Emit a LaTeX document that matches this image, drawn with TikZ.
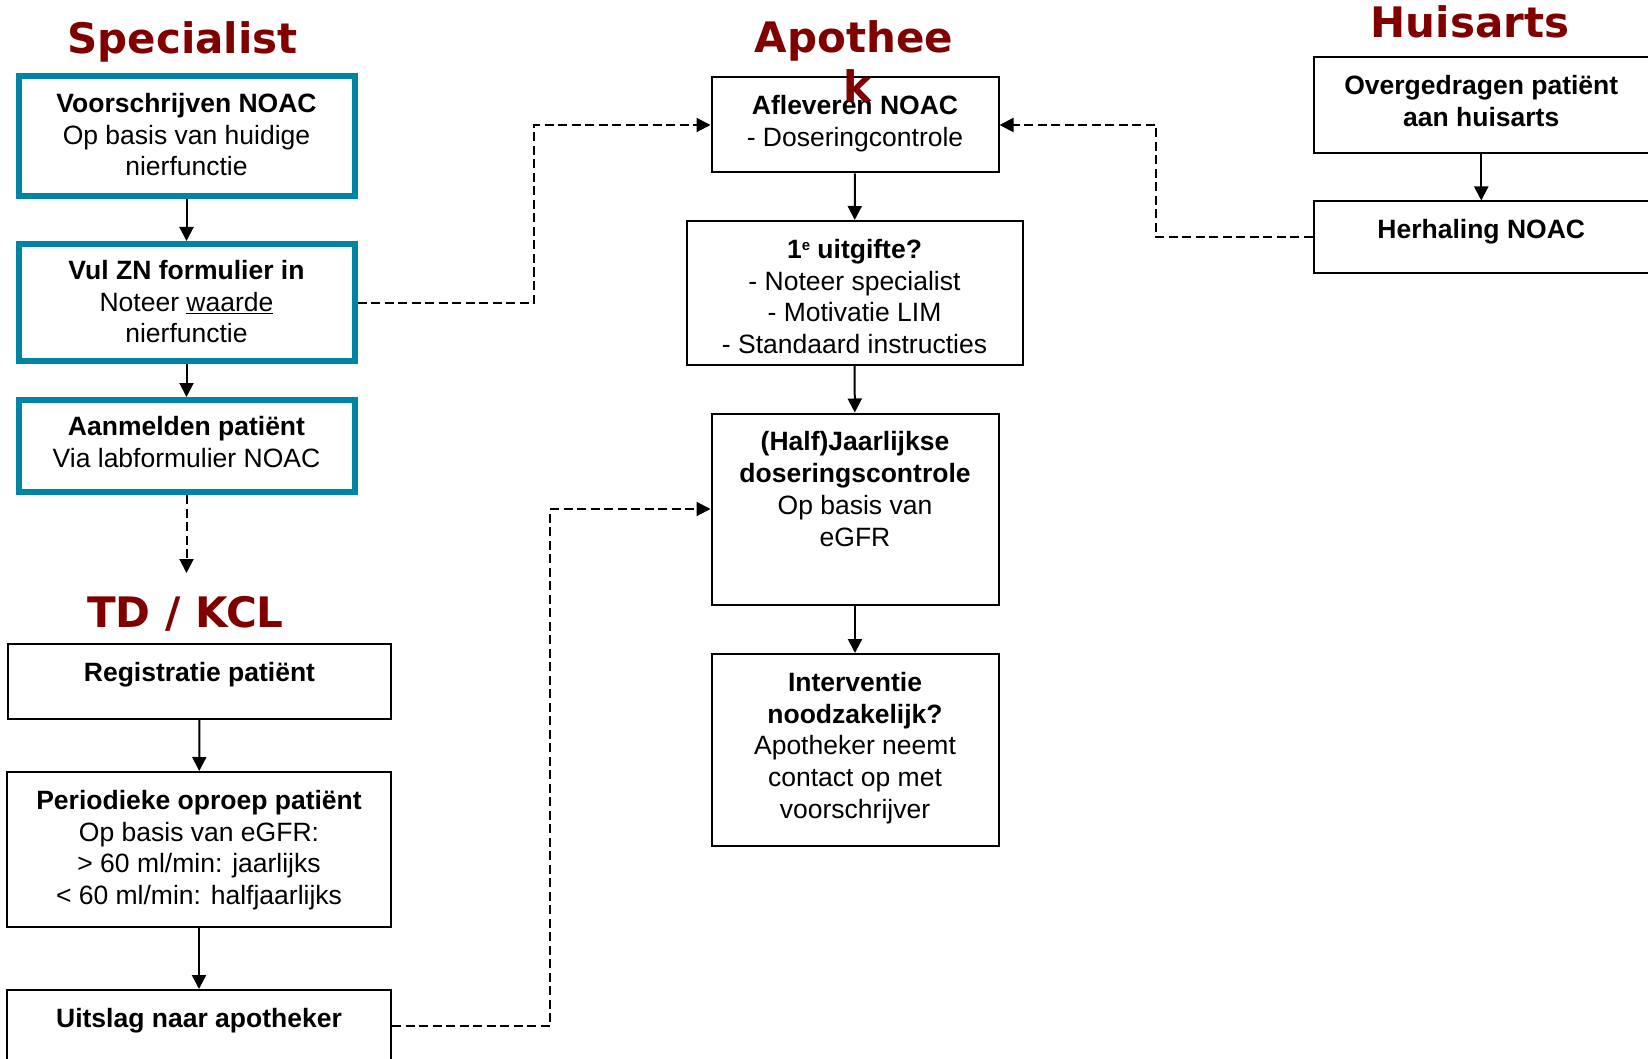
\documentclass[tikz,border=0pt]{standalone}
\usepackage{fontspec}
\setmainfont{Liberation Sans}
\newfontfamily\titlefont{DejaVu Sans}
\usetikzlibrary{arrows.meta}
\definecolor{tealbox}{RGB}{0,132,163}
\definecolor{titlered}{RGB}{128,0,0}
\begin{document}
\begin{tikzpicture}[x=1pt,y=-1pt,
  boxs/.style={draw=tealbox, line width=6pt, rectangle, inner sep=0pt},
  boxb/.style={draw=black, line width=2pt, rectangle, inner sep=0pt},
  txt/.style={anchor=north, align=center, inner sep=0pt, font=\fontsize{26.5}{31.7}\selectfont},
  ttl/.style={anchor=base, inner sep=0pt, text=titlered, align=center, font=\titlefont\bfseries\fontsize{42}{49}\selectfont},
  arr/.style={line width=2pt, -{Triangle[length=14pt,width=14pt]}},
  darr/.style={arr, dash pattern=on 9pt off 4.5pt},
]
\fill[white] (0,0) rectangle (1648,1059);
\useasboundingbox (0,0) rectangle (1648,1059);

% Specialist column
\node[boxs, minimum width=336pt, minimum height=120pt] (s1) at (186.5,136) {};
\node[boxs, minimum width=336pt, minimum height=117pt] (s2) at (186.5,302.5) {};
\node[boxs, minimum width=336pt, minimum height=92pt] (s3) at (186.5,446) {};
\node[txt] (s1t) at ([yshift=-20pt]s1.north) {\textbf{Voorschrijven NOAC}\\Op basis van huidige\\nierfunctie};
\node[txt] (s2t) at ([yshift=-19pt]s2.north) {\textbf{Vul ZN formulier in}\\Noteer \underline{waarde}\\nierfunctie};
\node[txt] (s3t) at ([yshift=-19pt]s3.north) {\textbf{Aanmelden patiënt}\\Via labformulier NOAC};
\coordinate (tdend) at (186.5,573);

% TD / KCL column
\node[boxb, minimum width=383pt, minimum height=75pt] (r1) at (199.5,681.5) {};
\node[boxb, minimum width=384pt, minimum height=155pt] (r2) at (199,849.5) {};
\node[boxb, minimum width=384pt, minimum height=72pt] (r3) at (199,1026) {};
\node[txt] (r1t) at ([yshift=-19pt]r1.north) {\textbf{Registratie patiënt}};
\node[txt] (r2t) at ([yshift=-19pt]r2.north) {\textbf{Periodieke oproep patiënt}\\Op basis van eGFR:\\> 60 ml/min: jaarlijks\\< 60 ml/min: halfjaarlijks};
\node[txt] (r3t) at ([yshift=-19pt]r3.north) {\textbf{Uitslag naar apotheker}};

% Apotheek column
\node[boxb, minimum width=287pt, minimum height=95pt] (a1) at (855,125) {};
\node[boxb, minimum width=336pt, minimum height=144pt] (a2) at (854.5,293) {};
\node[boxb, minimum width=287pt, minimum height=191pt] (a3) at (855,509) {};
\node[boxb, minimum width=287pt, minimum height=192pt] (a4) at (855,750) {};
\node[txt] (a1t) at ([yshift=-19pt]a1.north) {\textbf{Afleveren NOAC}\\- Doseringcontrole};
\node[txt] (a2t) at ([yshift=-19pt]a2.north) {\textbf{1\raisebox{8pt}{\fontsize{15}{15}\selectfont e} uitgifte?}\\- Noteer specialist\\- Motivatie LIM\\- Standaard instructies};
\node[txt] (a3t) at ([yshift=-19pt]a3.north) {\textbf{(Half)Jaarlijkse}\\\textbf{doseringscontrole}\\Op basis van\\eGFR};
\node[txt] (a4t) at ([yshift=-19pt]a4.north) {\textbf{Interventie}\\\textbf{noodzakelijk?}\\Apotheker neemt\\contact op met\\voorschrijver};

% Huisarts column
\node[boxb, minimum width=335.5pt, minimum height=95.5pt] (h1) at (1481.25,105.25) {};
\node[boxb, minimum width=335.5pt, minimum height=71.5pt] (h2) at (1481.25,237.25) {};
\node[txt] (h1t) at ([yshift=-19pt]h1.north) {\textbf{Overgedragen patiënt}\\\textbf{aan huisarts}};
\node[txt] (h2t) at ([yshift=-19pt]h2.north) {\textbf{Herhaling NOAC}};

% solid connectors
\draw[arr] (s1) -- (s2);
\draw[arr] (s2) -- (s3);
\draw[arr] (r1) -- (r2);
\draw[arr] (r2) -- (r3);
\draw[arr] (a1) -- (a2);
\draw[arr] (a2) -- (a3);
\draw[arr] (a3) -- (a4);
\draw[arr] (h1) -- (h2);

% dashed connectors
\coordinate (c1) at (534,0);
\coordinate (c2) at (1156,0);
\coordinate (c3) at (550,0);
\draw[darr] (s3.south) -- (tdend);
\draw[darr] (s2.east) -- (s2.east -| c1) |- (a1.west);
\draw[darr] (h2.west) -- (h2.west -| c2) |- (a1.east);
\draw[darr] (r3.east) -- (r3.east -| c3) |- (a3.west);

% titles
\node[ttl] (tspec) at (182.5,54) {Specialist};
\node[ttl] (ttd) at (185.5,627.5) {TD / KCL};
\node[ttl] (thuis) at (1470,38) {Huisarts};
\node[ttl] (tapo1) at (854,53) {Apothee};
\node[ttl] (tapo2) at (857,102) {k};
\end{tikzpicture}
\end{document}
